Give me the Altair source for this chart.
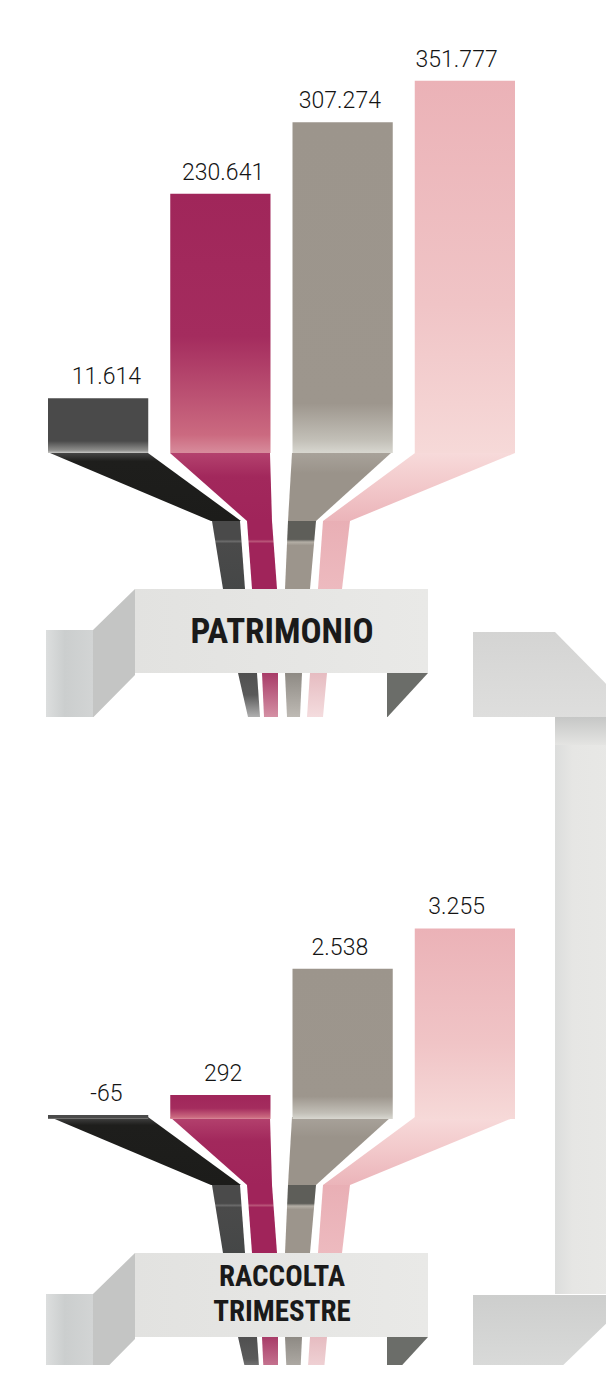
import altair as alt
import pandas as pd

# ---------------- data ----------------
series = ["serie 1", "serie 2", "serie 3", "serie 4"]
patrimonio = [11614, 230641, 307274, 351777]
patrimonio_lbl = ["11.614", "230.641", "307.274", "351.777"]
raccolta = [-65, 292, 2538, 3255]
raccolta_lbl = ["-65", "292", "2.538", "3.255"]
sections = ["PATRIMONIO", "RACCOLTA\nTRIMESTRE"]

# ---------------- layout (reference pixel space) ----------------
M = 8
W, H = 598, 1357
DY = 664  # vertical offset of the second panel


def XS():
    return alt.Scale(domain=[0, 614], range=[-M, 614 - M], zero=False, nice=False)


def YS():
    return alt.Scale(domain=[0, 1373], range=[-M, 1373 - M], zero=False, nice=False)


def grad(stops, horizontal=False):
    return alt.Gradient(
        gradient="linear",
        stops=[alt.GradientStop(color=c, offset=o) for o, c in stops],
        x1=0, y1=0, x2=1 if horizontal else 0, y2=0 if horizontal else 1,
    )


def area(points, fill, dy=0):
    df = pd.DataFrame(points, columns=["y", "xl", "xr"])
    df["y"] = df["y"] + dy
    return alt.Chart(df).mark_area(orient="horizontal", fill=fill, opacity=1,
                                   interpolate="linear").encode(
        y=alt.Y("y:Q", scale=YS(), axis=None),
        x=alt.X("xl:Q", scale=XS(), axis=None, stack=None),
        x2="xr:Q",
    )


def rect(x0, x1, y0, y1, fill):
    df = pd.DataFrame({"x0": [x0], "x1": [x1], "y0": [y0], "y1": [y1]})
    return alt.Chart(df).mark_rect(fill=fill, opacity=1).encode(
        x=alt.X("x0:Q", scale=XS(), axis=None),
        x2="x1:Q",
        y=alt.Y("y0:Q", scale=YS(), axis=None),
        y2="y1:Q",
    )


# strip pieces (top panel coordinates): (y, x_left, x_right)
pieces = [
    ([(453, 50, 148), (521, 211, 241)],
     grad([(0, "#454545"), (0.12, "#1e1e1c"), (1, "#1c1c1a")])),
    ([(521, 212, 240), (589, 223, 245)],
     grad([(0, "#4a4a4a"), (0.27, "#4a4a4a"), (0.3, "#6a6a6a"), (0.33, "#4a4a4a"), (1, "#454747")])),
    ([(673, 238, 257), (717, 248, 260)],
     grad([(0, "#505050"), (0.5, "#5a5a5a"), (1, "#b0b0b0")])),
    ([(453, 170, 270), (521, 247, 272)],
     grad([(0, "#B4426E"), (0.35, "#A2285C"), (1, "#A0245A")])),
    ([(521, 247, 272), (589, 252, 277)],
     grad([(0, "#A0245A"), (0.27, "#A0245A"), (0.3, "#B85478"), (0.33, "#A0245A"), (1, "#A0245A")])),
    ([(673, 262, 278), (717, 264, 278)],
     grad([(0, "#A83C68"), (1, "#D490A4")])),
    ([(453, 292, 391), (521, 288, 316)],
     grad([(0, "#A8A29A"), (0.3, "#9A938A"), (1, "#9A938A")])),
    ([(521, 288, 316), (589, 285, 310)],
     grad([(0, "#5E5E59"), (0.27, "#5E5E59"), (0.31, "#B4AFA6"), (0.36, "#9C958C"), (1, "#9C958C")])),
    ([(673, 285, 302), (717, 287, 300)],
     grad([(0, "#8E8A84"), (1, "#BEBAB4")])),
    ([(453, 415, 515), (521, 323, 350)],
     grad([(0, "#F7DADA"), (0.5, "#F2C8CA"), (1, "#EBB4B9")])),
    ([(521, 323, 350), (589, 318, 342)],
     grad([(0, "#E9AFB5"), (1, "#EDBABF")])),
    ([(673, 310, 327), (717, 307, 323)],
     grad([(0, "#E6BCC1"), (1, "#F4DCDE")])),
]

layers = []

# right connector (spans both panels)
layers.append(area([(632, 473, 555), (692, 473, 614), (717, 473, 614)],
                   grad([(0, "#D4D4D3"), (1, "#DEDEDD")])))
layers.append(rect(555, 614, 717, 1294, grad([(0, "#DCDDDC"), (0.3, "#E6E6E4"), (1, "#E8E8E6")], horizontal=True)))
layers.append(rect(555, 614, 717, 745, grad([(0, "#C6C7C6"), (1, "#E4E4E2")])))
layers.append(area([(1295, 473, 614), (1316, 473, 614), (1373, 473, 555)],
                   grad([(0, "#CDCECD"), (1, "#DADBDA")])))

for p, off in enumerate([0, DY]):
    # 3D box pieces
    layers.append(rect(46, 93, 630 + off, 717 + off,
                       grad([(0, "#DCDEDE"), (0.4, "#CBCECE"), (1, "#D2D4D4")], horizontal=True)))
    layers.append(area([(589, 135, 135.5), (630, 93, 135), (675, 93, 135), (717, 93, 93.5)],
                       "#C4C5C4", dy=off))
    layers.append(rect(135, 428, 589 + off, 673 + off,
                       grad([(0, "#E2E2E0"), (1, "#E9E9E7")], horizontal=True)))
    layers.append(area([(673, 387, 428), (717, 387, 387.5)], "#6B6D69", dy=off))
    # strips
    for pts, fill in pieces:
        layers.append(area(pts, fill, dy=off))

# ---------------- bars from data ----------------
band = alt.Scale(domain=series, range=[48 - M, 515 - M], paddingInner=0.18, paddingOuter=0)
bar_fills = [
    grad([(0, "#4a4a4a"), (0.78, "#4a4a4a"), (0.95, "#8e8e8c"), (1, "#c8c8c6")]),
    grad([(0, "#A0265A"), (0.55, "#A42C5E"), (0.93, "#CB6A80"), (1, "#D88C9C")]),
    grad([(0, "#9C958C"), (0.85, "#9D968D"), (0.96, "#C2BFB7"), (1, "#D8D7D0")]),
    grad([(0, "#EBB2B7"), (0.6, "#F0C4C6"), (1, "#F6D9D8")]),
]

panels = [
    (pd.DataFrame({"series": series, "value": patrimonio, "label": patrimonio_lbl}),
     alt.Scale(domain=[-47100, 400000], range=[453 - M, 453 - M - 417.3], zero=False, nice=False),
     -47100),
    (pd.DataFrame({"series": series, "value": raccolta, "label": raccolta_lbl}),
     alt.Scale(domain=[-135, 3500], range=[1119 - M, 1119 - M - 204.4], zero=False, nice=False),
     -135),
]

for df, ysc, base in panels:
    for i, s in enumerate(series):
        layers.append(
            alt.Chart(df[df["series"] == s]).mark_bar(fill=bar_fills[i], opacity=1).encode(
                x=alt.X("series:N", scale=band, axis=None),
                y=alt.Y("value:Q", scale=ysc, axis=None),
                y2=alt.datum(base),
            )
        )
    layers.append(
        alt.Chart(df).mark_text(font="Roboto", fontWeight=300, fontSize=23, dy=-21,
                                color="#141414").encode(
            x=alt.X("series:N", scale=band, axis=None),
            y=alt.Y("value:Q", scale=ysc, axis=None),
            text="label:N",
        )
    )

# section titles
title_df = pd.DataFrame({"t": sections, "x": [282, 282], "y": [632, 1277], "s": [35, 29]})
for i in range(2):
    layers.append(
        alt.Chart(title_df.iloc[[i]]).mark_text(
            font="Roboto Condensed, Liberation Sans Narrow, DejaVu Sans Condensed, Roboto",
            fontWeight="bold", fontSize=int(title_df["s"][i]), lineBreak="\n", lineHeight=35,
            color="#1a1a1a", baseline="middle",
        ).encode(
            x=alt.X("x:Q", scale=XS(), axis=None),
            y=alt.Y("y:Q", scale=YS(), axis=None),
            text="t:N",
        )
    )

chart = alt.layer(*layers).resolve_scale(x="independent", y="independent").properties(
    width=W, height=H, padding=0, background="white",
    autosize=alt.AutoSizeParams(type="none")
).configure_view(stroke=None, strokeWidth=0)

chart.save("out.html", embed_options={"renderer": "svg", "actions": False})
